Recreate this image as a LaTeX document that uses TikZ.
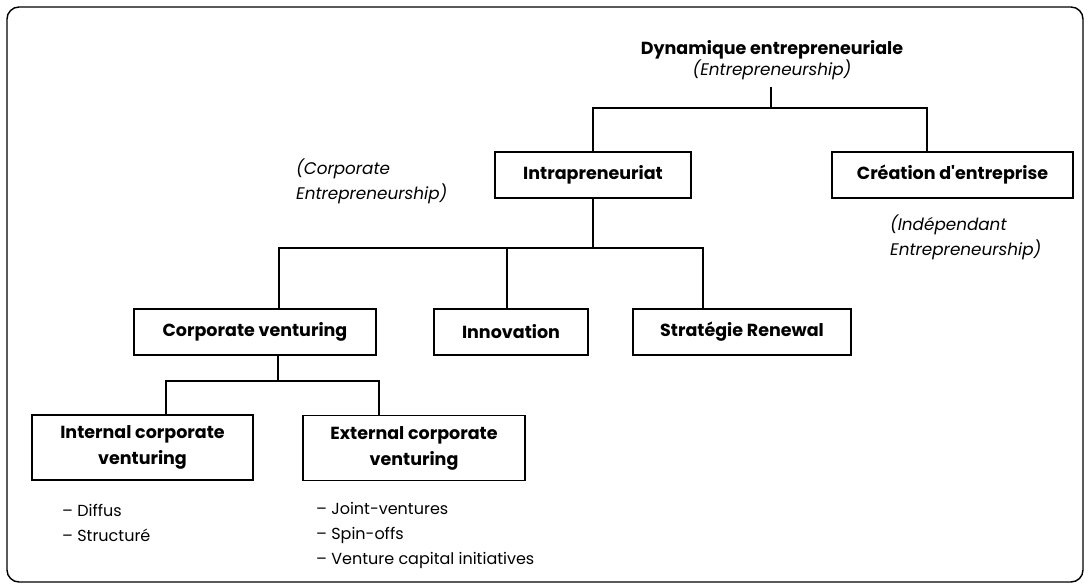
\documentclass[tikz,border=0pt]{standalone}
\usepackage{fontspec}
\setmainfont{Poppins}[Ligatures=TeXOff]
\begin{document}
\begin{tikzpicture}[x=1pt,y=-1pt,
  box/.style={draw, line width=1.2pt, align=center, inner sep=0pt,
    font=\bfseries\fontsize{17.5}{26}\selectfont},
  link/.style={line width=1.1pt},
  note/.style={font=\itshape\fontsize{16.8}{25}\selectfont, align=left,
    inner sep=0pt, anchor=west},
  listing/.style={font=\fontsize{16}{25}\selectfont, align=left,
    inner sep=0pt, anchor=west}]
\useasboundingbox (0,0) rectangle (1090,586);
% outer frame
\draw[line width=1.4pt, rounded corners=12pt] (7,7) rectangle (1083,582);

% root
\node[align=center, inner sep=0pt, outer sep=7pt] (dyn) at (772,60)
  {{\bfseries\fontsize{17.5}{26}\selectfont Dynamique entrepreneuriale}\\[0pt]
   {\itshape\fontsize{16.8}{26}\selectfont (Entrepreneurship)}};

% second level
\node[box, minimum width=196pt, minimum height=46pt] (intra) at (593,175) {Intrapreneuriat};
\node[box, minimum width=241pt, minimum height=46pt] (crea) at (952.5,175) {Création d'entreprise};
\node[note] (corpnote) at (296,181.5) {(Corporate\\Entrepreneurship)};
\node[note] (indnote) at (890,237.5) {(Indépendant\\Entrepreneurship)};

% third level
\node[box, minimum width=242pt, minimum height=46pt] (cv) at (255,332) {Corporate venturing};
\node[box, minimum width=154pt, minimum height=46pt] (innov) at (511,332) {Innovation};
\node[box, minimum width=218pt, minimum height=46pt] (strat) at (742,332) {Stratégie Renewal};

% fourth level
\node[box, minimum width=221pt, minimum height=65pt] (icv) at (142.5,447.5) {Internal corporate\\venturing};
\node[box, minimum width=222pt, minimum height=65pt] (ecv) at (414,448) {External corporate\\venturing};
\node[listing] (ilist) at (62,522.5) {– Diffus\\– Structuré};
\node[listing] (elist) at (316,535) {– Joint-ventures\\– Spin-offs\\– Venture capital initiatives};

% junction points of the connectors
\coordinate (j1) at (771,108);
\coordinate (j2) at (593,248);
\coordinate (j3) at (278,381);

% connectors
\draw[link] (dyn.south -| j1) -- (j1);
\draw[link] (intra.north) |- (j1) -| ([xshift=-25.5pt]crea.north);
\draw[link] (intra.south) -- (j2);
\draw[link] ([xshift=24pt]cv.north) |- (j2) -| ([xshift=-39pt]strat.north);
\draw[link] ([xshift=-4pt]innov.north) -- ([xshift=-4pt]innov.north |- j2);
\draw[link] ([xshift=23pt]cv.south) -- (j3);
\draw[link] ([xshift=23.5pt]icv.north) |- (j3) -| ([xshift=-35pt]ecv.north);
\end{tikzpicture}
\end{document}
